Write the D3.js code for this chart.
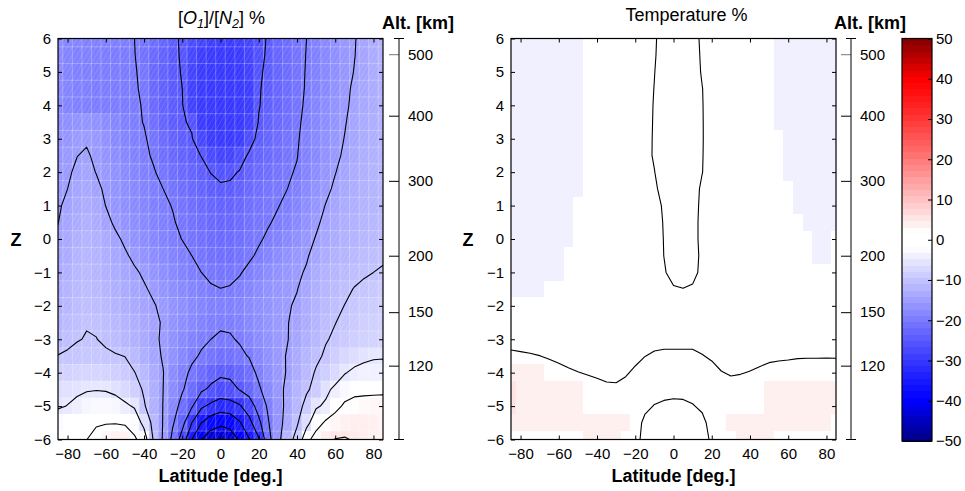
<!DOCTYPE html>
<html><head><meta charset="utf-8">
<script src="https://cdn.jsdelivr.net/npm/d3@7"></script>
<style>
body{margin:0;background:#fff}
svg{display:block}
text{font-family:"Liberation Sans",Arial,Helvetica,sans-serif;fill:#000}
</style>
</head><body>
<svg id="chart" width="965" height="491"></svg>
<script>
// ---------------- data ----------------
const lats = [-85,-80,-75,-70,-65,-60,-55,-50,-45,-40,-35,-30,-25,-20,-15,-10,-5,0,5,10,15,20,25,30,35,40,45,50,55,60,65,70,75,80,85];
const zLevels = [6,5.5,5,4.5,4,3.5,3,2.5,2,1.5,1,0.5,0,-0.5,-1,-1.5,-2,-2.5,-3,-3.5,-4,-4.5,-5,-5.5,-6];

// [O1]/[N2] change in %, one row per Z level (top to bottom), one value per latitude
const o1n2Rows = [
[-18,-18.5,-18.5,-19,-19,-19,-19.5,-19.5,-20,-21,-22,-23,-24.3,-25.5,-27,-28,-29,-29.5,-29.5,-29,-28,-26.5,-24.5,-23,-22,-21,-20,-19,-18,-17,-16,-15.2,-14,-13,-12.5],
[-18,-18.5,-19,-19,-19.3,-19.5,-19.7,-19.8,-19.9,-21.2,-22.3,-23.3,-24.6,-25.2,-27.5,-29,-29.5,-29.8,-29.8,-29.3,-28,-26.2,-24.3,-23,-22,-21,-19.9,-19,-18,-17,-16,-15.1,-14,-13,-12.5],
[-18,-18.5,-19,-19.2,-19.4,-19.6,-19.7,-19.8,-19.8,-20.6,-22.5,-23.5,-24.6,-25.1,-28,-29.3,-29.7,-29.9,-29.9,-29.6,-28.5,-25.5,-24.3,-23,-22,-21,-19.8,-19,-18,-17,-16,-14.9,-14,-13,-12.5],
[-18,-18.5,-19,-19.3,-19.5,-19.6,-19.7,-19.8,-19.8,-20.3,-22.5,-23.5,-24.6,-25,-28.5,-29.5,-29.8,-29.9,-29.9,-29.7,-29,-25.3,-24,-23,-22,-21,-19.7,-18.8,-17.8,-16.8,-15.7,-14.5,-13.7,-13,-12.5],
[-18,-18.5,-19,-19.3,-19.5,-19.6,-19.7,-19.8,-19.8,-20.1,-22.3,-23.5,-24.4,-24.8,-28.5,-29.6,-29.9,-29.95,-29.95,-29.8,-29,-25.2,-23.8,-22.8,-21.8,-20.8,-19.5,-18.5,-17.5,-16.5,-15.6,-14.2,-13.5,-13,-12.5],
[-17.5,-17,-16.5,-16.3,-16.8,-17.5,-18.3,-19,-19.5,-20.1,-21.5,-23,-24,-24.7,-25.4,-29.3,-29.8,-29.9,-29.9,-29.6,-28.5,-24.8,-23.5,-22.5,-21.5,-20.5,-19.3,-18.3,-17.3,-16.3,-15.2,-14,-13.3,-12.8,-12.4],
[-17,-16.2,-15.5,-15.3,-15.8,-16.8,-17.8,-18.6,-19.3,-19.7,-20.8,-22.2,-23.3,-24,-24.8,-27.5,-29.2,-29.5,-29.5,-29,-26.5,-24,-23,-22,-21,-20.3,-19,-18,-17,-16,-14.9,-13.8,-13,-12.5,-12.2],
[-16.5,-15.6,-15.05,-14.7,-15.5,-16.3,-17.3,-18.2,-18.9,-19.5,-20.3,-21.5,-22.5,-23.3,-24,-25.1,-27,-28,-28,-26.5,-24.5,-23.3,-22.3,-21.5,-20.7,-20.1,-18.8,-17.8,-16.8,-15.7,-14.5,-13.5,-12.8,-12.3,-12],
[-16,-15.4,-14.5,-14,-15.1,-15.7,-16.7,-17.6,-18.4,-19.1,-19.8,-20.7,-21.6,-22.4,-23.2,-24,-25.1,-25.8,-25.6,-24.8,-23.3,-22.3,-21.5,-20.8,-20.3,-19.8,-18.5,-17.3,-16.2,-15.1,-14,-13.2,-12.6,-12.1,-11.8],
[-15.6,-15,-14,-13.5,-14.2,-15.6,-16.5,-17.2,-18,-18.7,-19.4,-20,-20.8,-21.6,-22.4,-23.2,-24,-24.5,-24.4,-23.6,-22.4,-21.5,-20.8,-20.3,-20,-19.2,-18,-16.8,-15.7,-14.5,-13.6,-12.9,-12.4,-12,-11.7],
[-15.3,-14.5,-13.5,-13,-13.5,-15.05,-16.2,-17,-17.7,-18.4,-19.1,-19.6,-20.1,-20.9,-21.7,-22.4,-23,-23.4,-23.3,-22.7,-21.7,-21,-20.4,-20.1,-19.5,-18.5,-17.3,-16.2,-14.9,-14,-13.2,-12.6,-12.1,-11.8,-11.5],
[-15.05,-14,-13,-12.5,-13,-14.2,-15.5,-16.5,-17.3,-18,-18.7,-19.3,-19.8,-20.5,-21.2,-21.9,-22.5,-22.8,-22.7,-22.2,-21.3,-20.7,-20.2,-19.6,-18.8,-17.8,-16.8,-15.5,-14.3,-13.5,-12.8,-12.3,-11.8,-11.5,-11.2],
[-14.5,-13.5,-12.5,-12,-12.5,-13.3,-14.4,-15.5,-16.6,-17.4,-18.2,-18.9,-19.5,-20.05,-20.8,-21.4,-22,-22.3,-22.2,-21.7,-20.9,-20.3,-19.6,-18.8,-18,-17,-16,-14.8,-13.8,-13,-12.4,-12,-11.5,-11.2,-11],
[-14,-13,-12,-11.6,-12,-12.8,-13.7,-14.6,-15.6,-16.5,-17.3,-18,-18.7,-19.4,-20,-20.8,-21.4,-21.7,-21.6,-21,-20.4,-19.6,-18.6,-17.6,-16.7,-15.9,-15.3,-14,-13,-12.3,-11.8,-11.3,-10.9,-10.6,-10.4],
[-13.5,-12.5,-11.5,-11.2,-11.6,-12.3,-13.1,-13.9,-14.6,-15.4,-16.3,-17.2,-18,-18.8,-19.5,-20,-20.6,-20.9,-20.7,-20.2,-19.4,-18.4,-17.4,-16.6,-16,-15.5,-14.7,-13,-12.2,-11.6,-11.1,-10.7,-10.3,-10,-9.7],
[-13,-12,-11.2,-10.8,-11.2,-11.8,-12.6,-13.3,-14,-14.7,-15.5,-16.3,-17.1,-17.9,-18.6,-19.2,-19.7,-19.95,-19.8,-19.3,-18.5,-17.6,-16.8,-16.2,-15.7,-15.1,-13.8,-12.6,-11.8,-11.1,-10.5,-9.9,-9.5,-9.2,-9],
[-12.5,-11.5,-10.8,-10.4,-10.8,-11.3,-12,-12.7,-13.4,-14.1,-14.8,-15.6,-16.4,-17.2,-18,-18.6,-19.1,-19.3,-19.2,-18.7,-17.9,-17.1,-16.4,-15.8,-15.3,-14.6,-13.3,-12.2,-11.3,-10.6,-9.95,-9.4,-9,-8.7,-8.5],
[-12,-11,-10.4,-10.1,-10.3,-10.8,-11.4,-12,-12.7,-13.5,-14.3,-15.3,-16.4,-17.3,-18.2,-18.9,-19.4,-19.6,-19.5,-19,-18.2,-17.3,-16.3,-15.6,-15.1,-14.3,-13,-11.9,-10.9,-10.05,-9.5,-9,-8.5,-8.2,-8],
[-11.5,-10.5,-10.1,-9.9,-9.95,-10.4,-11,-11.7,-12.5,-13.4,-14.6,-15.3,-16.8,-17.8,-18.8,-19.5,-20,-20.4,-20.3,-19.7,-18.7,-17.6,-16.6,-15.8,-15.1,-14,-12.6,-11.5,-10.2,-9.6,-9,-8.5,-8.1,-7.8,-7.6],
[-9.9,-9.7,-9.5,-9.4,-9.4,-9.6,-9.8,-10.05,-11.3,-12.7,-14,-15.3,-16.8,-18.2,-19.5,-20.3,-21,-21.5,-21.3,-20.7,-19.8,-18.3,-16.9,-15.8,-14.8,-13.3,-11.8,-10.6,-9.6,-8.4,-7.3,-6.4,-5.7,-5.3,-5.2],
[-8.5,-8,-7.7,-7.5,-7.5,-7.8,-8.3,-9,-9.9,-11.4,-13.3,-14.9,-17.4,-19.2,-20.5,-22,-23.3,-24.2,-24,-23,-21.5,-19.2,-17.3,-15.9,-14.8,-13,-11.2,-9.7,-8.4,-7,-5.2,-4.3,-4,-4,-4.1],
[-6.5,-6,-5.6,-5.3,-5.15,-5.3,-6,-7,-8.3,-10.5,-12.8,-15,-17.5,-19.6,-22,-24.3,-25.8,-27,-26.5,-24.8,-23,-20.6,-18,-16.1,-14.2,-12,-10.5,-8.9,-5.9,-4.2,-2.8,-1.8,-1.8,-1.6,-1.5],
[-5.5,-4.9,-4.2,-3.2,-2.8,-2.8,-3.1,-4.3,-5.4,-9.6,-12.5,-15.1,-18,-21.5,-24.5,-29.2,-31,-32.5,-32,-30.5,-27.5,-23,-19.3,-16.5,-14,-11.6,-8.8,-5.5,-4.4,-1.9,1,2.2,2.8,3,3.2],
[-2.5,-1.8,-1.2,-0.8,-0.5,-0.3,-0.25,-0.6,-2.2,-6.3,-11.5,-15.2,-19.5,-23.5,-30,-35,-38,-39.2,-38.5,-35.5,-31.5,-26.2,-20.3,-16.5,-13.5,-10.5,-6.4,-2.3,0.8,3,3.8,4.2,4.2,4,3.6],
[-1,-0.5,-0.2,-0.05,1.5,3,3.8,3.5,0.8,-2.5,-10.5,-15.5,-21.2,-27,-35,-40,-42.5,-43.2,-42.5,-39.5,-35.3,-30.5,-21.5,-16.3,-11.8,-8.6,-1.8,2.5,4.2,5.1,5.2,4.8,4.2,3.8,3.5]
];

// Temperature change in %, same grid
const tempRows = [
[-4,-4,-4,-4,-4,-4,-4,-4,-1.5,-1.5,-1.5,-1.5,-1.5,-1.5,-1,-0.3,1,1.2,1.2,0.8,-0.4,-1.5,-1.5,-1.5,-1.5,-1.5,-1.5,-1.5,-4,-4,-4,-4,-4,-4,-4],
[-4,-4,-4,-4,-4,-4,-4,-4,-1.5,-1.5,-1.5,-1.5,-1.5,-1.5,-1,-0.2,1,1.2,1.2,0.9,-0.3,-1.5,-1.5,-1.5,-1.5,-1.5,-1.5,-1.5,-4,-4,-4,-4,-4,-4,-4],
[-4,-4,-4,-4,-4,-4,-4,-4,-1.5,-1.5,-1.5,-1.5,-1.5,-1.5,-1,-0.05,1,1.2,1.2,1,-0.2,-1.5,-1.5,-1.5,-1.5,-1.5,-1.5,-1.5,-4,-4,-4,-4,-4,-4,-4],
[-4,-4,-4,-4,-4,-4,-4,-4,-1.5,-1.5,-1.5,-1.5,-1.5,-1.5,-0.8,0.05,1,1.2,1.2,1,0.05,-1,-1.5,-1.5,-1.5,-1.5,-1.5,-1.5,-4,-4,-4,-4,-4,-4,-4],
[-4,-4,-4,-4,-4,-4,-4,-4,-1.5,-1.5,-1.5,-1.5,-1.5,-1.5,-0.7,0.12,1,1.2,1.2,1,0.1,-1,-1.5,-1.5,-1.5,-1.5,-1.5,-1.5,-4,-4,-4,-4,-4,-4,-4],
[-4,-4,-4,-4,-4,-4,-4,-4,-1.5,-1.5,-1.5,-1.5,-1.5,-1.5,-0.65,0.15,1,1.2,1.2,1,0.12,-1,-1.5,-1.5,-1.5,-1.5,-1.5,-1.5,-4,-4,-4,-4,-4,-4,-4],
[-4,-4,-4,-4,-4,-4,-4,-4,-1.5,-1.5,-1.5,-1.5,-1.5,-1.5,-0.6,0.18,1,1.2,1.2,1,0.13,-1,-1.5,-1.5,-1.5,-1.5,-1.5,-1.5,-1.5,-4,-4,-4,-4,-4,-4],
[-4,-4,-4,-4,-4,-4,-4,-4,-1.5,-1.5,-1.5,-1.5,-1.5,-1.5,-0.6,0.2,1,1.2,1.2,1,0.1,-1,-1.5,-1.5,-1.5,-1.5,-1.5,-1.5,-1.5,-4,-4,-4,-4,-4,-4],
[-4,-4,-4,-4,-4,-4,-4,-4,-1.5,-1.5,-1.5,-1.5,-1.5,-1.5,-0.8,-0.05,1,1.2,1.2,1,0.05,-1,-1.5,-1.5,-1.5,-1.5,-1.5,-1.5,-1.5,-4,-4,-4,-4,-4,-4],
[-4,-4,-4,-4,-4,-4,-4,-4,-1.5,-1.5,-1.5,-1.5,-1.5,-1.5,-1,-0.4,0.8,1.2,1.2,1,-0.4,-1.2,-1.5,-1.5,-1.5,-1.5,-1.5,-1.5,-1.5,-1.5,-4,-4,-4,-4,-4],
[-4,-4,-4,-4,-4,-4,-4,-1.5,-1.5,-1.5,-1.5,-1.5,-1.5,-1.5,-1.5,-0.8,0.3,1,1.1,1,-0.6,-1.5,-1.5,-1.5,-1.5,-1.5,-1.5,-1.5,-1.5,-1.5,-4,-4,-4,-4,-4],
[-4,-4,-4,-4,-4,-4,-4,-1.5,-1.5,-1.5,-1.5,-1.5,-1.5,-1.5,-1.5,-1,0.15,0.9,1,0.9,-0.7,-1.5,-1.5,-1.5,-1.5,-1.5,-1.5,-1.5,-1.5,-1.5,-1.5,-4,-4,-4,-4],
[-4,-4,-4,-4,-4,-4,-4,-1.5,-1.5,-1.5,-1.5,-1.5,-1.5,-1.5,-1.5,-1,0.07,0.9,1,0.9,-0.7,-1.5,-1.5,-1.5,-1.5,-1.5,-1.5,-1.5,-1.5,-1.5,-1.5,-1.5,-4,-4,-1.5],
[-4,-4,-4,-4,-4,-4,-1.5,-1.5,-1.5,-1.5,-1.5,-1.5,-1.5,-1.5,-1.5,-1,0.02,0.8,1,0.9,-0.5,-1.5,-1.5,-1.5,-1.5,-1.5,-1.5,-1.5,-1.5,-1.5,-1.5,-1.5,-4,-4,-1.5],
[-4,-4,-4,-4,-4,-4,-1.5,-1.5,-1.5,-1.5,-1.5,-1.5,-1.5,-1.5,-1.5,-1.5,-0.2,0.7,0.9,0.7,-0.6,-1.5,-1.5,-1.5,-1.5,-1.5,-1.5,-1.5,-1.5,-1.5,-1.5,-1.5,-1.5,-1.5,-1.5],
[-4,-4,-4,-4,-1.5,-1.5,-1.5,-1.5,-1.5,-1.5,-1.5,-1.5,-1.5,-1.5,-1.5,-1.5,-0.8,-0.2,-0.05,-0.3,-0.8,-1.5,-1.5,-1.5,-1.5,-1.5,-1.5,-1.5,-1.5,-1.5,-1.5,-1.5,-1.5,-1.5,-1.5],
[-1.5,-1.5,-1.5,-1.5,-1.5,-1.5,-1.5,-1.5,-1.5,-1.5,-1.5,-1.5,-1.5,-1.5,-1.5,-1.5,-1.5,-1.5,-1.5,-1.5,-1.5,-1.5,-1.5,-1.5,-1.5,-1.5,-1.5,-1.5,-1.5,-1.5,-1.5,-1.5,-1.5,-1.5,-1.5],
[-1.5,-1.5,-1.5,-1.5,-1.5,-1.5,-1.5,-1.5,-1.5,-1.5,-1.5,-1.5,-1.5,-1.5,-1.5,-1.5,-1.5,-1.5,-1.5,-1.5,-1.5,-1.5,-1.5,-1.5,-1.5,-1.5,-1.5,-1.5,-1.5,-1.5,-1.5,-1.5,-1.5,-1.5,-1.5],
[-1.28,-1.48,-1.68,-1.96,-1.5,-1.5,-1.5,-1.5,-1.5,-1.5,-1.5,-1.5,-1.5,-1.5,-1.5,-1.4,-1.2,-1.2,-1.2,-1.2,-1.8,-1.5,-1.5,-1.5,-1.5,-1.5,-1.5,-1.5,-1.5,-1.5,-1.5,-1.5,-1.5,-1.5,-1.5],
[0.72,0.52,0.32,0.04,-0.4,-0.88,-1.4,-1.88,-1.5,-1.5,-1.5,-1.5,-1.5,-1.2,-0.08,0.6,0.8,0.8,0.8,0.8,0.2,-0.6,-1.8,-1.5,-1.5,-1.8,-1.28,-0.8,-0.6,-0.48,-0.32,-0.28,-0.28,-0.24,-0.28],
[4,4,4,4,1.6,1.12,0.6,0.12,-0.28,-0.68,-1.12,-1.2,-0.48,0.8,1.92,1.5,1.5,1.5,1.5,1.5,1.5,1.4,0.2,-0.4,-0.2,0.2,0.72,1.2,1.4,1.52,1.68,1.72,1.72,1.76,1.72],
[5.5,4,4,4,4,4,4,4,1.72,1.32,0.88,0.8,1.52,1.5,1.5,1.8,1.32,1.12,1.2,1.72,1.5,1.5,1.5,1.6,1.8,1.5,1.5,4,4,4,4,4,4,4,4],
[5.5,4,4,4,4,4,4,4,1.5,1.5,1.5,1.5,1.5,1.5,1,-0.2,-0.68,-0.88,-0.8,-0.28,0.8,1.5,1.5,1.5,1.5,1.5,1.5,4,4,4,4,4,4,4,4],
[4,4,4,4,4,4,4,4,4,4,4,4,4,2,-1,-1.5,-1.5,-1.5,-1.5,-1.5,-1.2,1.66,1.5,4,4,4,4,4,4,4,4,4,4,4,1.5],
[1.5,1.5,1.5,1.5,1.5,1.5,1.5,1.5,4,4,4,4,1.5,1,-1,-1.5,-1.5,-1.5,-1.5,-1.5,-1,0.4,1.5,1.5,4,4,4,4,1.5,1.5,1.5,1.5,1.5,1.5,1.5]
];

const o1n2Levels = [-45,-40,-35,-30,-25,-20,-15,-10,-5,0,5];
const tempLevels = [0];
const latTicks = [-80,-60,-40,-20,0,20,40,60,80];
const zTicks = [6,5,4,3,2,1,0,-1,-2,-3,-4,-5,-6];
const altTicks = [500,400,300,200,150,120];
const altTickZ = [5.53,3.69,1.74,-0.5,-2.19,-3.79];
const cbTicks = [50,40,30,20,10,0,-10,-20,-30,-40,-50];

// ---------------- drawing ----------------
const svg = d3.select("#chart");
const FONT = '"Liberation Sans",Arial,Helvetica,sans-serif';
const Y0 = 38.5, Y1 = 439.5;

function colorOf(v){
  const a = Math.abs(v);
  if (a <= 2) return "rgb(255,255,255)";
  if (a <= 40){
    const w = Math.round(255*Math.pow(1-(a-2)/38, 1.15));
    return v < 0 ? `rgb(${w},${w},255)` : `rgb(255,${w},${w})`;
  }
  const c = Math.round(255 - 127*Math.min(1,(a-40)/10));
  return v < 0 ? `rgb(0,0,${c})` : `rgb(${c},0,0)`;
}

function styleAxis(g){
  g.attr("font-family", FONT).attr("font-size", 15);
  g.select(".domain").remove();
  g.selectAll(".tick line").attr("stroke","#000");
  g.selectAll(".tick text").attr("fill","#000");
}

function panel(cfg){
  const x = d3.scaleLinear().domain([-85,85]).range([cfg.x0,cfg.x1]);
  const y = d3.scaleLinear().domain([-6,6]).range([Y1,Y0]);
  const clipId = "clip-" + cfg.id;
  svg.append("clipPath").attr("id", clipId).append("rect")
    .attr("x", cfg.x0).attr("y", Y0).attr("width", cfg.x1-cfg.x0).attr("height", Y1-Y0);
  const g = svg.append("g");
  const body = g.append("g").attr("clip-path", `url(#${clipId})`);

  const dLat = lats[1]-lats[0], dZ = zLevels[0]-zLevels[1];
  const cells = [];
  cfg.rows.forEach((row,r) => row.forEach((v,c) => cells.push({lat:lats[c], z:zLevels[r], v})));
  body.append("g").attr("shape-rendering","crispEdges").selectAll("rect").data(cells).join("rect")
    .attr("x", d => x(d.lat - dLat/2))
    .attr("y", d => y(d.z + dZ/2))
    .attr("width", d => x(d.lat + dLat/2) - x(d.lat - dLat/2) + 0.6)
    .attr("height", d => y(d.z - dZ/2) - y(d.z + dZ/2) + 0.6)
    .attr("fill", d => colorOf(d.v));

  if (cfg.hatch){
    const h = body.append("g").attr("stroke","#fff").attr("fill","none");
    const bLat = lats.slice(1).map((l,i)=> (l + lats[i])/2);
    const bZ = zLevels.slice(1).map((z,i)=> (z + zLevels[i])/2);
    h.selectAll("line.v").data(bLat).join("line").attr("class","v")
      .attr("x1", d=>x(d)).attr("x2", d=>x(d)).attr("y1", Y0).attr("y2", Y1)
      .attr("stroke-opacity",0.3).attr("stroke-width",0.9);
    h.selectAll("line.h").data(bZ).join("line").attr("class","h")
      .attr("y1", d=>y(d)).attr("y2", d=>y(d)).attr("x1", cfg.x0).attr("x2", cfg.x1)
      .attr("stroke-opacity",0.3).attr("stroke-width",0.9);
    const cw = x(lats[1]) - x(lats[0]);
    const ch = y(zLevels[1]) - y(zLevels[0]);
    const yb = y(zLevels[zLevels.length-1] - dZ/2), yt = y(zLevels[0] + dZ/2);
    const run = cw * (yb - yt) / ch;
    const xStart = x(lats[0] - dLat/2);
    const ks = d3.range(-Math.ceil(run/(cw/2)) - 1, Math.ceil((cfg.x1-cfg.x0)/(cw/2)) + 3);
    h.selectAll("line.d").data(ks).join("line").attr("class","d")
      .attr("x1", k => xStart + k*cw/2).attr("y1", yb)
      .attr("x2", k => xStart + k*cw/2 + run).attr("y2", yt)
      .attr("stroke-opacity",0.2).attr("stroke-width",0.7);
  }

  // contours
  const nx = lats.length, ny = zLevels.length;
  const gx = d3.scaleLinear().domain([0.5, nx-0.5]).range([x(lats[0]), x(lats[nx-1])]);
  const gy = d3.scaleLinear().domain([0.5, ny-0.5]).range([y(zLevels[0]), y(zLevels[ny-1])]);
  const contours = d3.contours().size([nx, ny]).thresholds(cfg.levels)(cfg.rows.flat());
  const line = d3.line().x(p => gx(p[0])).y(p => gy(p[1]));
  const rings = [];
  contours.forEach(c => c.coordinates.forEach(poly => poly.forEach(ring => rings.push(ring))));
  body.append("g").selectAll("path").data(rings).join("path")
    .attr("d", r => line(r) + "Z")
    .attr("fill","none").attr("stroke","#000").attr("stroke-width",1.1).attr("stroke-linejoin","round");

  // axes (ticks inside)
  g.append("g").attr("transform",`translate(0,${Y1})`)
    .call(d3.axisBottom(x).tickValues(latTicks).tickSize(-4).tickPadding(9)).call(styleAxis);
  g.append("g").attr("transform",`translate(0,${Y0})`)
    .call(d3.axisTop(x).tickValues(latTicks).tickSize(-4).tickFormat("")).call(styleAxis);
  g.append("g").attr("transform",`translate(${cfg.x0},0)`)
    .call(d3.axisLeft(y).tickValues(zTicks).tickSize(-4).tickPadding(7)).call(styleAxis);
  g.append("g").attr("transform",`translate(${cfg.x1},0)`)
    .call(d3.axisRight(y).tickValues(zTicks).tickSize(-4).tickFormat("")).call(styleAxis);

  g.append("rect").attr("x", cfg.x0).attr("y", Y0).attr("width", cfg.x1-cfg.x0).attr("height", Y1-Y0)
    .attr("fill","none").attr("stroke","#000").attr("stroke-width",1.2);

  // altitude axis
  const alt = g.append("g").attr("transform",`translate(${cfg.altX},0)`)
    .call(d3.axisRight(y).tickValues(altTickZ).tickFormat((d,i)=>altTicks[i]).tickSize(-10).tickPadding(9))
    .call(styleAxis);
  alt.selectAll(".tick line").filter((d,i)=> i===0).attr("stroke","#777");
  alt.append("line").attr("x1",0).attr("x2",0).attr("y1",y(6)).attr("y2",y(-6)).attr("stroke","#000");
  alt.append("line").attr("x1",-5).attr("x2",5).attr("y1",y(6)).attr("y2",y(6)).attr("stroke","#000");
  alt.append("line").attr("x1",-5).attr("x2",5).attr("y1",y(-6)).attr("y2",y(-6)).attr("stroke","#000");

  svg.append("text").attr("x", cfg.altX + 19).attr("y", 29).attr("text-anchor","middle")
    .attr("font-size",18).attr("font-weight","bold").text("Alt. [km]");
  svg.append("text").attr("x", (cfg.x0+cfg.x1)/2).attr("y", 482).attr("text-anchor","middle")
    .attr("font-size",18).attr("font-weight","bold").text("Latitude [deg.]");
  svg.append("text").attr("x", cfg.zLabelX).attr("y", 246).attr("text-anchor","middle")
    .attr("font-size",18).attr("font-weight","bold").text("Z");
  return {x, y};
}

panel({id:"o1n2", x0:58, x1:383, altX:399, zLabelX:16, rows:o1n2Rows, levels:o1n2Levels, hatch:true});
panel({id:"temp", x0:511, x1:836, altX:851, zLabelX:468, rows:tempRows, levels:tempLevels, hatch:false});

// titles
const t1 = svg.append("text").attr("x", 221.5).attr("y", 24).attr("text-anchor","middle").attr("font-size",18);
t1.append("tspan").text("[");
t1.append("tspan").attr("font-style","italic").text("O");
t1.append("tspan").attr("font-style","italic").attr("font-size",12.5).attr("dy",4).text("1");
t1.append("tspan").attr("dy",-4).text("]/[");
t1.append("tspan").attr("font-style","italic").text("N");
t1.append("tspan").attr("font-style","italic").attr("font-size",12.5).attr("dy",4).text("2");
t1.append("tspan").attr("dy",-4).text("] %");
svg.append("text").attr("x", 686.5).attr("y", 21).attr("text-anchor","middle").attr("font-size",18).text("Temperature %");

// colorbar
const cbX0 = 902, cbX1 = 932;
const cb = d3.scaleLinear().domain([-50,50]).range([441,38.5]);
const nBands = 64;
const bands = d3.range(nBands).map(i => ({lo:-50 + i*100/nBands, hi:-50 + (i+1)*100/nBands}));
svg.append("g").attr("shape-rendering","crispEdges").selectAll("rect").data(bands).join("rect")
  .attr("x", cbX0).attr("width", cbX1-cbX0)
  .attr("y", d => cb(d.hi)).attr("height", d => cb(d.lo) - cb(d.hi) + 0.6)
  .attr("fill", d => colorOf((d.lo+d.hi)/2));
svg.append("rect").attr("x",cbX0).attr("y",cb(50)).attr("width",cbX1-cbX0).attr("height",cb(-50)-cb(50))
  .attr("fill","none").attr("stroke","#000").attr("stroke-width",1.2);
svg.append("g").attr("transform",`translate(${cbX1},0)`)
  .call(d3.axisRight(cb).tickValues(cbTicks).tickSize(-4).tickPadding(4)).call(styleAxis);
</script>
</body></html>
